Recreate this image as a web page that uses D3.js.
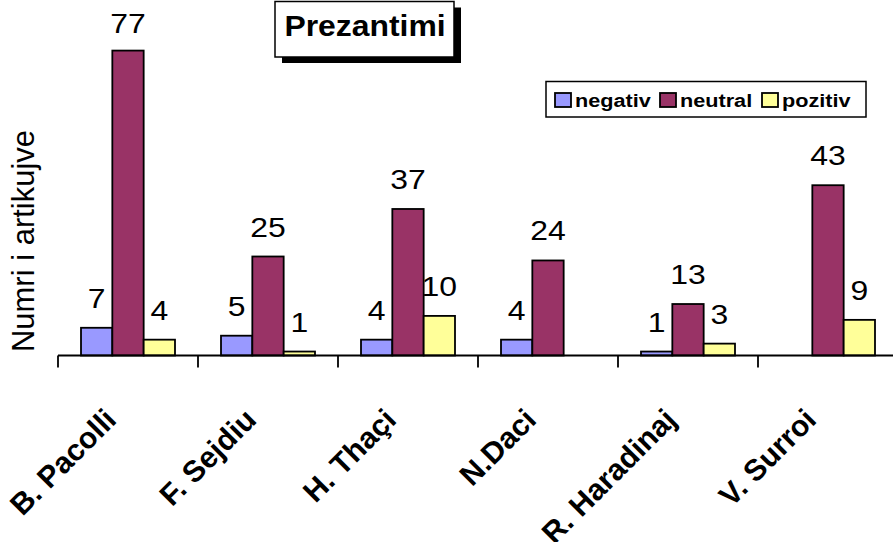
<!DOCTYPE html>
<html><head><meta charset="utf-8">
<script src="https://cdn.jsdelivr.net/npm/d3@7"></script>
<style>html,body{margin:0;padding:0;background:#fff;}svg{display:block;}</style>
</head><body>
<svg id="c" width="893" height="542"></svg>
<script>
const categories = ["B. Pacolli","F. Sejdiu","H. Thaçi","N.Daci","R. Haradinaj","V. Surroi"];
const seriesNames = ["negativ","neutral","pozitiv"];
const negativ = [7,5,4,4,1,0];
const neutral = [77,25,37,24,13,43];
const pozitiv = [4,1,10,0,3,9];
const seriesColors = ["#9999FF","#993366","#FFFF99"];
const title = "Prezantimi";
const yTitle = "Numri i artikujve";

const seriesValues = [negativ, neutral, pozitiv];
const svg = d3.select("#c");
const F = "Arial, 'Liberation Sans', sans-serif";
const SX = 1.14; // horizontal stretch of the original picture's text

const axisY = 355.5;
const x0 = d3.scaleBand().domain(categories).range([58, 898]).paddingInner(0.3286).paddingOuter(0.1643);
const x1 = d3.scaleBand().domain(seriesNames).range([0, x0.bandwidth()]);
const y = d3.scaleLinear().domain([0, 80]).range([axisY, 38.7]);
const color = d3.scaleOrdinal().domain(seriesNames).range(seriesColors);

const data = [];
categories.forEach((c, i) => seriesNames.forEach((s, j) => data.push({c, s, v: seriesValues[j][i]})));

// bars
svg.append("g").selectAll("rect").data(data.filter(d => d.v > 0)).join("rect")
  .attr("x", d => x0(d.c) + x1(d.s))
  .attr("y", d => y(d.v))
  .attr("width", x1.bandwidth())
  .attr("height", d => y(0) - y(d.v))
  .attr("fill", d => color(d.s))
  .attr("stroke", "#000").attr("stroke-width", 1.8);

// value labels
svg.append("g").selectAll("text").data(data.filter(d => d.v > 0)).join("text")
  .attr("transform", d => `translate(${x0(d.c) + x1(d.s) + x1.bandwidth() / 2},${Math.max(y(d.v) - 20, 33)}) scale(${SX},1)`)
  .attr("text-anchor", "middle")
  .attr("font-family", F).attr("font-size", 28)
  .text(d => d.v);

// x axis
const step = x0.step();
const gap = step * x0.paddingInner() / 2;
svg.append("line").attr("x1", x0(categories[0]) - gap).attr("x2", 893).attr("y1", axisY).attr("y2", axisY)
  .attr("stroke", "#000").attr("stroke-width", 1.8);
svg.append("g").selectAll("line").data(categories).join("line")
  .attr("x1", d => x0(d) - gap).attr("x2", d => x0(d) - gap)
  .attr("y1", axisY).attr("y2", axisY + 12)
  .attr("stroke", "#000").attr("stroke-width", 1.8);

// category labels
svg.append("g").selectAll("text").data(categories).join("text")
  .attr("transform", d => `translate(${x0(d) + x0.bandwidth() / 2 - 10},${axisY + 66}) rotate(-45)`)
  .attr("text-anchor", "end")
  .attr("font-family", F).attr("font-weight", "bold").attr("font-size", 30)
  .text(d => d);

// y title
svg.append("text").attr("transform", "translate(34,241) rotate(-90)")
  .attr("text-anchor", "middle").attr("font-family", F).attr("font-size", 31)
  .text(yTitle);

// title box
svg.append("rect").attr("x", 282).attr("y", 7.5).attr("width", 179).attr("height", 55.5).attr("fill", "#000");
svg.append("rect").attr("x", 275).attr("y", 1.5).attr("width", 179).attr("height", 55.5)
  .attr("fill", "#fff").attr("stroke", "#000").attr("stroke-width", 1.5);
svg.append("text").attr("transform", `translate(365,36) scale(1.1,1)`).attr("text-anchor", "middle")
  .attr("font-family", F).attr("font-weight", "bold").attr("font-size", 29).text(title);

// legend
const lg = svg.append("g");
lg.append("rect").attr("x", 546).attr("y", 81.5).attr("width", 320).attr("height", 35.5)
  .attr("fill", "#fff").attr("stroke", "#000").attr("stroke-width", 1.5);
const legX = [555, 660, 762];
seriesNames.forEach((s, j) => {
  lg.append("rect").attr("x", legX[j]).attr("y", 93).attr("width", 16).attr("height", 14)
    .attr("fill", color(s)).attr("stroke", "#000").attr("stroke-width", 1.8);
  lg.append("text").attr("transform", `translate(${legX[j] + 20},107) scale(${SX},1)`)
    .attr("font-family", F).attr("font-weight", "bold").attr("font-size", 19).text(s);
});
</script>
</body></html>
